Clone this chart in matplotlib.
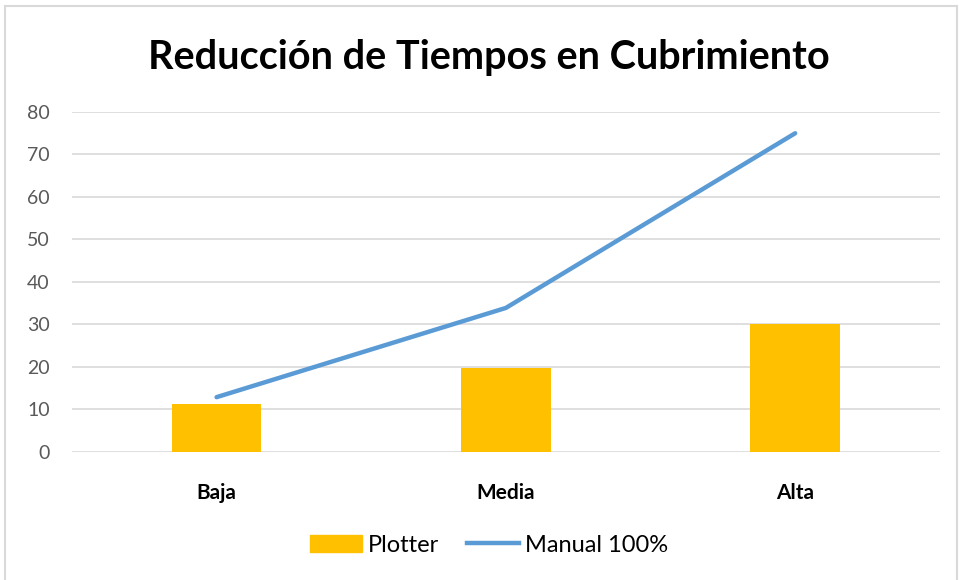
import matplotlib.pyplot as plt
import numpy as np
from matplotlib.patches import Rectangle
from matplotlib.lines import Line2D

categories = ["Baja", "Media", "Alta"]
plotter = [11.2, 19.7, 30.2]
manual = [12.9, 33.9, 75.0]
y_ticks = [0, 10, 20, 30, 40, 50, 60, 70, 80]

fig = plt.figure(figsize=(9.59, 5.80), dpi=100)
ax = fig.add_axes([0.075, 0.2207, 0.905, 0.5862])

x = np.arange(len(categories))
ax.bar(x, plotter, width=0.31, color="#FFC000", zorder=2, label="Plotter")
ax.plot(x, manual, color="#5B9BD5", linewidth=3.2, solid_capstyle="round",
        zorder=3, label="Manual 100%")

ax.set_xlim(-0.5, 2.5)
ax.set_ylim(0, 80)
ax.set_yticks(y_ticks)
ax.set_xticks(x)
ax.set_xticklabels(categories, fontsize=15, fontweight="bold", color="#000000",
                   family="Lato")
for lab in ax.get_yticklabels():
    lab.set_fontsize(14)
    lab.set_color("#595959")
    lab.set_family("Lato")
ax.tick_params(axis="both", length=0)
ax.tick_params(axis="y", pad=16)
ax.tick_params(axis="x", pad=22)
ax.grid(axis="y", color="#D9D9D9", linewidth=1.2, zorder=0)
for s in ax.spines.values():
    s.set_visible(False)

fig.text(0.51, 0.9, "Reducción de Tiempos en Cubrimiento", ha="center",
         va="center", fontsize=28.5, fontweight="bold", family="Lato")

handles = [Rectangle((0, 0), 1, 1, color="#FFC000"),
           Line2D([0], [0], color="#5B9BD5", linewidth=3.2)]
fig.legend(handles, ["Plotter", "Manual 100%"], loc="center",
           bbox_to_anchor=(0.51, 0.06), ncol=2, frameon=False,
           prop={"family": "Lato", "size": 17}, handlelength=2.2,
           handletextpad=0.25, columnspacing=1.2)

fig.patches.append(Rectangle((0.005, -0.01), 0.993, 0.999, transform=fig.transFigure,
                             fill=False, edgecolor="#D9D9D9", linewidth=1.5))

fig.savefig("out.png", dpi=100)
